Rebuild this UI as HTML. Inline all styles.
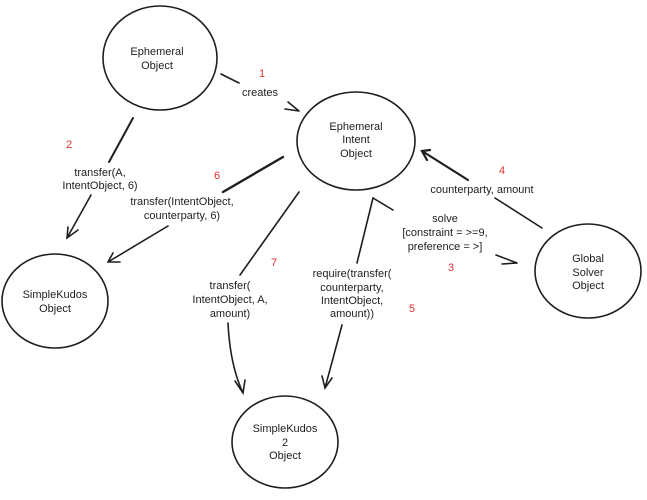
<!DOCTYPE html>
<html><head><style>
html,body{margin:0;padding:0;background:#fff;}
svg{display:block;}
text{font-family:"Liberation Sans",sans-serif;font-size:11px;fill:#1e1e1e;text-anchor:middle;}
.r{fill:#e03131;font-size:11px;}
</style></head><body>
<svg width="647" height="500" viewBox="0 0 647 500" xmlns="http://www.w3.org/2000/svg">
<g fill="none" stroke="#1e1e1e" stroke-width="1.6" stroke-linecap="round">
<ellipse cx="160" cy="58" rx="57" ry="52"/>
<ellipse cx="356" cy="141" rx="59" ry="49"/>
<ellipse cx="55" cy="301" rx="53" ry="47"/>
<ellipse cx="285" cy="442" rx="53" ry="46"/>
<ellipse cx="588" cy="271" rx="53" ry="47"/>
<!-- creates -->
<path d="M221 74 L239 83"/>
<path d="M285 109 L299 111 M288 102 L299 111"/>
<!-- 2 -->
<path d="M133 118 L109 162" stroke-width="2"/>
<path d="M91 195 L67 238 M68 227 L67 238 L78 230"/>
<!-- 6 -->
<path d="M283 157 L223 192" stroke-width="2.4"/>
<path d="M168 226 L108 262 M113 253 L108 262 L120 262"/>
<!-- 7 -->
<path d="M299 192 L240 275"/>
<path d="M228 323 Q230 365 243 393 M235 381 L243 393 L245 380"/>
<!-- 5 -->
<path d="M373 198 L357 263"/>
<path d="M373 198 L393 210"/>
<path d="M342 325 L325 388 M322 376 L325 388 L332 378"/>
<!-- solve -->
<path d="M496 255 L517 263 M502 264 L517 263"/>
<!-- 4 -->
<path d="M542 228 L495 198"/>
<path d="M468 180 L422 151 M430 150 L422 151 L427 160" stroke-width="2.2"/>
</g>
<text x="157" y="55">Ephemeral</text><text x="157" y="69">Object</text>
<text x="356" y="130">Ephemeral</text><text x="356" y="143">Intent</text><text x="356" y="157">Object</text>
<text x="55" y="298">SimpleKudos</text><text x="55" y="312">Object</text>
<text x="285" y="432">SimpleKudos</text><text x="285" y="446">2</text><text x="285" y="459">Object</text>
<text x="588" y="262">Global</text><text x="588" y="276">Solver</text><text x="588" y="289">Object</text>
<text x="260" y="96">creates</text>
<text x="100" y="176">transfer(A,</text><text x="100" y="189">IntentObject, 6)</text>
<text x="182" y="205">transfer(IntentObject,</text><text x="182" y="219">counterparty, 6)</text>
<text x="230" y="289">transfer(</text><text x="230" y="303">IntentObject, A,</text><text x="230" y="317">amount)</text>
<text x="352" y="277">require(transfer(</text><text x="352" y="291">counterparty,</text><text x="352" y="304">IntentObject,</text><text x="352" y="317">amount))</text>
<text x="445" y="222">solve</text><text x="445" y="236">[constraint = &gt;=9,</text><text x="445" y="250">preference = &gt;]</text>
<text x="482" y="193">counterparty, amount</text>
<text class="r" x="262" y="77">1</text>
<text class="r" x="69" y="148">2</text>
<text class="r" x="451" y="271">3</text>
<text class="r" x="502" y="174">4</text>
<text class="r" x="412" y="312">5</text>
<text class="r" x="217" y="179">6</text>
<text class="r" x="274" y="266">7</text>
</svg>
</body></html>
